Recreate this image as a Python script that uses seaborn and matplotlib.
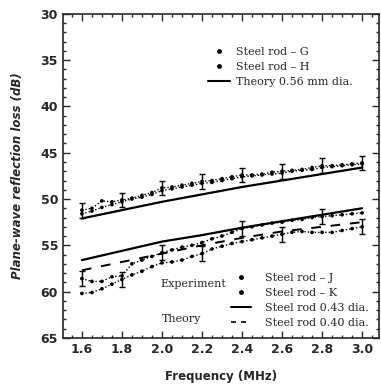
import numpy as np
import pandas as pd
import seaborn as sns
import matplotlib
matplotlib.use("Agg")
import matplotlib.pyplot as plt
from matplotlib.lines import Line2D
from matplotlib.ticker import MultipleLocator

# measured points, frequency in MHz
freq = [1.60, 1.65, 1.70, 1.75, 1.80, 1.85, 1.90, 1.95, 2.00, 2.05,
        2.10, 2.15, 2.20, 2.25, 2.30, 2.35, 2.40, 2.45, 2.50, 2.55,
        2.60, 2.65, 2.70, 2.75, 2.80, 2.85, 2.90, 2.95, 3.00]
rod_g = [51.2, 51.0, 50.2, 50.3, 50.1, 49.9, 49.6, 49.3, 48.8, 48.7,
         48.5, 48.3, 48.1, 48.0, 47.8, 47.6, 47.4, 47.4, 47.3, 47.1,
         47.0, 46.9, 46.8, 46.6, 46.4, 46.4, 46.3, 46.2, 46.1]
rod_h = [51.6, 51.3, 50.9, 50.6, 50.3, 50.0, 49.8, 49.5, 49.1, 48.9,
         48.7, 48.5, 48.3, 48.2, 48.0, 47.8, 47.6, 47.5, 47.4, 47.3,
         47.2, 47.0, 46.9, 46.8, 46.6, 46.5, 46.4, 46.3, 46.2]
rod_j = [58.6, 58.9, 58.9, 58.4, 58.3, 57.0, 56.6, 56.2, 55.8, 55.5,
         55.2, 55.0, 54.7, 54.3, 54.0, 53.6, 53.2, 53.0, 52.8, 52.6,
         52.5, 52.3, 52.2, 52.0, 51.9, 51.8, 51.7, 51.6, 51.5]
rod_k = [60.2, 60.1, 59.7, 59.2, 58.7, 58.2, 57.8, 57.3, 56.9, 56.8,
         56.6, 56.2, 55.9, 55.4, 55.1, 54.8, 54.6, 54.4, 54.2, 54.0,
         53.8, 53.6, 53.5, 53.6, 53.6, 53.6, 53.4, 53.2, 53.0]

# theory curves
freq_th = [1.6, 1.8, 2.0, 2.2, 2.4, 2.6, 2.8, 3.0]
th_056 = [52.1, 51.2, 50.3, 49.5, 48.7, 48.0, 47.3, 46.6]
th_043 = [56.6, 55.6, 54.6, 53.9, 53.1, 52.4, 51.7, 51.0]
th_040 = [57.7, 56.8, 55.9, 55.0, 54.2, 53.5, 53.0, 52.5]

# error bar positions
eb_g_f = [1.6, 1.8, 2.0, 2.2, 2.4, 2.6, 2.8, 3.0]
eb_g_v = [51.2, 50.1, 48.8, 48.1, 47.4, 47.0, 46.4, 46.1]
eb_j_f = [1.6, 2.0, 2.4, 2.8]
eb_j_v = [58.6, 55.8, 53.2, 51.9]
eb_k_f = [1.8, 2.2, 2.6, 3.0]
eb_k_v = [58.7, 55.9, 53.8, 53.0]
eb_err = 0.8

sns.set_style("ticks")
plt.rcParams['font.family'] = ['DejaVu Sans']

fig = plt.figure(figsize=(3.81, 3.87), dpi=100)
ax = fig.add_axes([0.165, 0.127, 0.83, 0.837])

pts = pd.DataFrame({'f': freq * 4,
                    'loss': rod_g + rod_h + rod_j + rod_k,
                    'rod': ['G'] * 29 + ['H'] * 29 + ['J'] * 29 + ['K'] * 29})
blk = {'G': 'black', 'H': 'black', 'J': 'black', 'K': 'black'}
# dotted trace through the points, as in the scanned figure
sns.lineplot(data=pts, x='f', y='loss', hue='rod', palette=blk, lw=1.0,
             ls=(0, (1, 1.5)), legend=False, ax=ax)
sns.scatterplot(data=pts, x='f', y='loss', hue='rod', palette=blk,
                s=7, linewidth=0, legend=False, ax=ax)

sns.lineplot(x=freq_th, y=th_056, color='black', lw=1.6, ax=ax)
sns.lineplot(x=freq_th, y=th_043, color='black', lw=1.6, ax=ax)
sns.lineplot(x=freq_th, y=th_040, color='black', lw=1.4, ls=(0, (5, 5)), ax=ax)

for ef, ev in [(eb_g_f, eb_g_v), (eb_j_f, eb_j_v), (eb_k_f, eb_k_v)]:
    ax.errorbar(ef, ev, yerr=eb_err, fmt='none', ecolor='black', elinewidth=1, capsize=2.5)

ax.set_xlim(1.505, 3.085)
ax.set_ylim(65, 30)
ax.xaxis.set_major_locator(MultipleLocator(0.2))
ax.xaxis.set_minor_locator(MultipleLocator(0.05))
ax.yaxis.set_major_locator(MultipleLocator(5))
ax.yaxis.set_minor_locator(MultipleLocator(1))
ax.tick_params(which='both', direction='in', top=True, right=True, width=1)
ax.tick_params(which='major', length=5, labelsize=9)
ax.tick_params(which='minor', length=2.5)
for lbl in ax.get_xticklabels() + ax.get_yticklabels():
    lbl.set_fontweight('bold')
for sp in ax.spines.values():
    sp.set_linewidth(1.2)

ax.set_xlabel('Frequency (MHz)', fontsize=8.5, fontweight='bold', labelpad=10)
ax.set_ylabel('Plane-wave reflection loss (dB)', fontsize=8.5, fontweight='bold',
              style='italic', labelpad=12)

leg_font = {'family': 'DejaVu Serif', 'size': 8}
dot = dict(marker='o', color='black', ls='none', markersize=2.5)
upper = [Line2D([], [], **dot), Line2D([], [], **dot),
         Line2D([], [], color='black', lw=1.5)]
leg1 = ax.legend(upper, ['Steel rod – G', 'Steel rod – H', 'Theory 0.56 mm dia.'],
                 loc='upper left', bbox_to_anchor=(0.44, 0.915), frameon=False,
                 prop=leg_font, handlelength=2.0, handletextpad=0.6,
                 labelspacing=0.45, borderpad=0)
ax.add_artist(leg1)
lower = [Line2D([], [], **dot), Line2D([], [], **dot),
         Line2D([], [], color='black', lw=1.5),
         Line2D([], [], color='black', lw=1.2, ls=(0, (3, 3)))]
ax.legend(lower, ['Steel rod – J', 'Steel rod – K', 'Steel rod 0.43 dia.', 'Steel rod 0.40 dia.'],
          loc='upper left', bbox_to_anchor=(0.515, 0.218), frameon=False,
          prop=leg_font, handlelength=1.8, handletextpad=1.2,
          labelspacing=0.45, borderpad=0)
ax.text(1.99, 59.2, 'Experiment', fontdict=leg_font, va='center')
ax.text(2.0, 63.0, 'Theory', fontdict=leg_font, va='center')

fig.savefig('out.png', dpi=100)
